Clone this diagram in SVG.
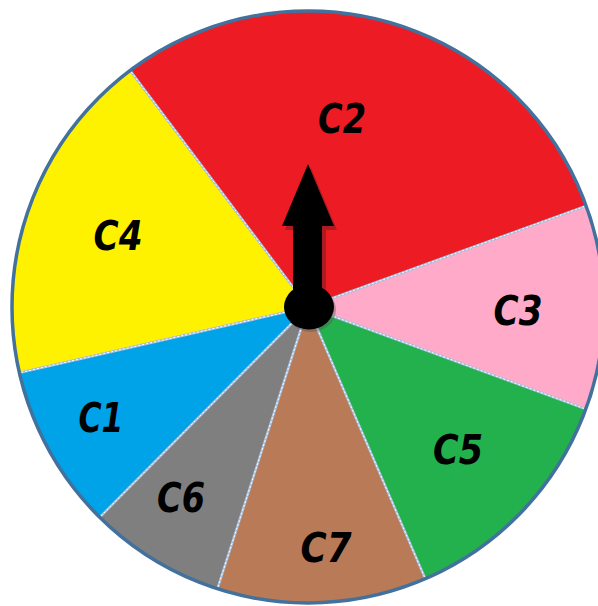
<svg xmlns="http://www.w3.org/2000/svg" width="598" height="606" viewBox="0 0 598 606">
<style>
.lbl{font-family:"DejaVu Sans",sans-serif;font-weight:bold;font-style:italic;font-size:40px;fill:#000;text-anchor:middle}
.div{stroke:#a8bfdc;stroke-width:2.5;fill:none}
.divw{stroke:#ffffff;stroke-width:1;stroke-dasharray:2 2;fill:none}
</style>
<rect width="598" height="606" fill="#ffffff"/>
<g id="wheel">
<g id="C2"><path d="M308,307 L130.1,70.4 A296,296 0 0 1 586.2,205.8 Z" fill="#ed1c24"/><text class="lbl" x="342" y="133" textLength="48" lengthAdjust="spacingAndGlyphs">C2</text></g>
<g id="C3"><path d="M308,307 L586.2,205.8 A296,296 0 0 1 585.9,409.1 Z" fill="#ffaac9"/><text class="lbl" x="518" y="325" textLength="49" lengthAdjust="spacingAndGlyphs">C3</text></g>
<g id="C5"><path d="M308,307 L585.9,409.1 A296,296 0 0 1 425.3,578.8 Z" fill="#22b14c"/><text class="lbl" x="458" y="464" textLength="50" lengthAdjust="spacingAndGlyphs">C5</text></g>
<g id="C7"><path d="M308,307 L425.3,578.8 A296,296 0 0 1 217.4,588.8 Z" fill="#b97a57"/><text class="lbl" x="326" y="562" textLength="51" lengthAdjust="spacingAndGlyphs">C7</text></g>
<g id="C6"><path d="M308,307 L217.4,588.8 A296,296 0 0 1 99.7,517.3 Z" fill="#7f7f7f"/><text class="lbl" x="181" y="512" textLength="48" lengthAdjust="spacingAndGlyphs">C6</text></g>
<g id="C1"><path d="M308,307 L99.7,517.3 A296,296 0 0 1 19.4,372.8 Z" fill="#00a2e8"/><text class="lbl" x="101" y="432" textLength="45" lengthAdjust="spacingAndGlyphs">C1</text></g>
<g id="C4"><path d="M308,307 L19.4,372.8 A296,296 0 0 1 130.1,70.4 Z" fill="#fff200"/><text class="lbl" x="118" y="250" textLength="49" lengthAdjust="spacingAndGlyphs">C4</text></g>
</g>
<g id="connectors">
<path class="div" d="M308,307 L130.1,70.4 M308,307 L586.2,205.8 M308,307 L585.9,409.1 M308,307 L425.3,578.8 M308,307 L217.4,588.8 M308,307 L99.7,517.3 M308,307 L19.4,372.8"/>
<path class="divw" d="M308,307 L130.1,70.4 M308,307 L586.2,205.8 M308,307 L585.9,409.1 M308,307 L425.3,578.8 M308,307 L217.4,588.8 M308,307 L99.7,517.3 M308,307 L19.4,372.8"/>
</g>
<circle id="rim" cx="308" cy="307" r="296" fill="none" stroke="#41719c" stroke-width="3.5"/>
<g id="pointer">
<path d="M311,168 L337,230 L326,230 L326,300 L296,300 L296,230 L285,230 Z" fill="#5a1a1a" opacity="0.45"/>
<ellipse cx="311" cy="310" rx="25" ry="22" fill="#555" opacity="0.4"/>
<path d="M308,164 L334,226 L322,226 L322,300 L293,300 L293,226 L282,226 Z" fill="#000"/>
<ellipse cx="309" cy="307" rx="25" ry="22.5" fill="#000"/>
</g>
</svg>
